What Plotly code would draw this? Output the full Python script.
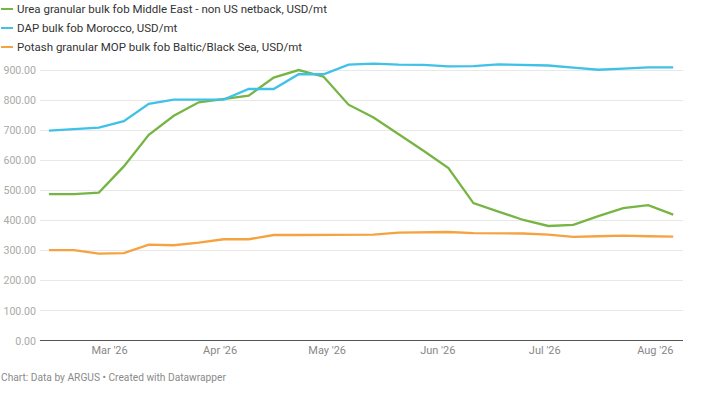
import pandas as pd
import plotly.graph_objects as go

# Weekly assessments (Thursdays), Feb 12 - Aug 6 2026
dates = pd.date_range("2026-02-12", periods=26, freq="7D")

urea = [488, 488, 493, 580, 685, 748, 793, 805, 815, 875, 900, 878, 785,
        742, 688, 632, 574, 458, 430, 402, 382, 386, 415, 441, 451, 420]
dap = [699, 704, 709, 730, 788, 802, 802, 802, 837, 837, 886, 886, 918,
       921, 918, 917, 912, 913, 919, 917, 915, 908, 901, 905, 909, 909]
potash = [302, 302, 290, 292, 320, 318, 327, 338, 338, 352, 352, 352, 352,
          353, 360, 362, 362, 358, 357, 357, 353, 346, 348, 350, 348, 347]

series_names = [
    "Urea granular bulk fob Middle East - non US netback, USD/mt",
    "DAP bulk fob Morocco, USD/mt",
    "Potash granular MOP bulk fob Baltic/Black Sea, USD/mt",
]
colors = ["#76b543", "#3fc1e8", "#f5a340"]

y_ticks = [0, 100, 200, 300, 400, 500, 600, 700, 800, 900]
x_ticks = ["2026-03-01", "2026-04-01", "2026-05-01", "2026-06-01", "2026-07-01", "2026-08-01"]
x_labels = ["Mar '26", "Apr '26", "May '26", "Jun '26", "Jul '26", "Aug '26"]

W, H = 643, 280  # plot area size in px

fig = go.Figure()

for name, vals, col in zip(series_names, [urea, dap, potash], colors):
    fig.add_trace(go.Scatter(
        x=dates, y=vals, name=name, mode="lines",
        line=dict(color=col, width=2.3),
        hovertemplate="%{y:.2f}<extra></extra>",
    ))

# zero baseline
fig.add_hline(y=0, line=dict(color="#555555", width=2))

# legend as short lines + text at top-left
for i, (name, col) in enumerate(zip(series_names, colors)):
    yy = 1.0 + (61 - 9 - 19 * i) / H
    fig.add_shape(type="line", xref="paper", yref="paper",
                  x0=(1 - 40) / W, x1=(13 - 40) / W, y0=yy, y1=yy,
                  line=dict(color=col, width=2))
    fig.add_annotation(
        xref="paper", yref="paper", x=(15 - 40) / W, y=yy,
        xanchor="left", yanchor="middle", showarrow=False,
        text=name,
        font=dict(size=11.5, color="#333333", family="Roboto"),
    )

fig.add_annotation(
    xref="paper", yref="paper", x=(-1 - 40) / W, y=-(377 - 341) / H,
    xanchor="left", yanchor="middle", showarrow=False,
    text="Chart: Data by ARGUS • Created with Datawrapper",
    font=dict(size=10.2, color="#8a8a8a", family="Roboto"),
)

fig.update_layout(
    width=715, height=400,
    margin=dict(l=40, r=32, t=61, b=59),
    paper_bgcolor="white", plot_bgcolor="white",
    showlegend=False,
    font=dict(family="Roboto", color="#999999", size=11),
    xaxis=dict(
        range=["2026-02-09 12:00", "2026-08-08 18:00"],
        tickvals=x_ticks, ticktext=x_labels, automargin=False,
        showgrid=False, zeroline=False, showline=False,
        ticks="", ticklabelstandoff=1,
        tickfont=dict(size=11, color="#888888"),
    ),
    yaxis=dict(
        range=[0, 930], tickvals=y_ticks, tickformat=".2f", automargin=False,
        showgrid=True, gridcolor="#e8e8e8", gridwidth=1,
        zeroline=False, showline=False, ticks="",
        ticklabelstandoff=3,
        tickfont=dict(size=10.6, color="#aaaaaa"),
    ),
)

fig.write_html("out.html", config={"displayModeBar": False},
               post_script="document.body.style.margin='0';")
